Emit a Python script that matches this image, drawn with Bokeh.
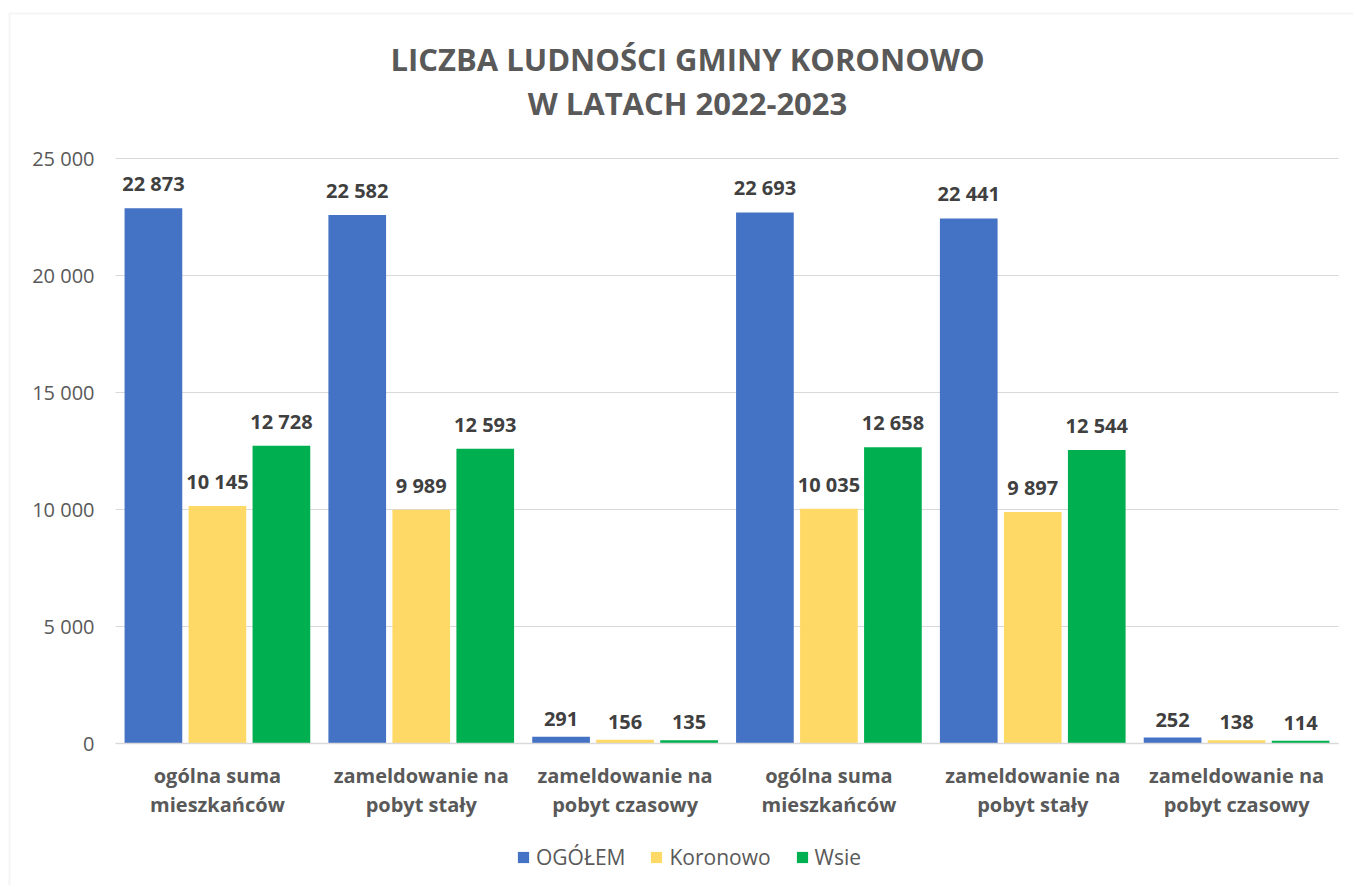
from bokeh.plotting import figure
from bokeh.models import (ColumnDataSource, Range1d, FixedTicker, Legend, LegendItem, Label, BoxAnnotation)
from bokeh.transform import dodge
from bokeh.embed import file_html
from bokeh.resources import INLINE

# ---- data ----
categories = ["ogólna suma\nmieszkańców", "zameldowanie na\npobyt stały", "zameldowanie na\npobyt czasowy",
              "ogólna suma\nmieszkańców", "zameldowanie na\npobyt stały", "zameldowanie na\npobyt czasowy"]
series_names = ["OGÓŁEM", "Koronowo", "Wsie"]
ogolem = [22873, 22582, 291, 22693, 22441, 252]
koronowo = [10145, 9989, 156, 10035, 9897, 138]
wsie = [12728, 12593, 135, 12658, 12544, 114]
y_ticks = [0, 5000, 10000, 15000, 20000, 25000]
title_lines = ["LICZBA LUDNOŚCI GMINY KORONOWO", "W LATACH 2022-2023"]
colors = ["#4472C4", "#FFD966", "#00B050"]

def fmt(v):
    return f"{v:,}".replace(",", " ")

FONT = "Open Sans"

# ---- layout constants (pixels) ----
W, H = 1353, 885
CAT_L, CAT_R = 115, 1338       # plot area, horizontally
Y0_PX, PX_PER_25K = 743, 585.0  # baseline and height of 0..25000
N = len(categories)

def px_to_x(px):
    return (px - CAT_L) / (CAT_R - CAT_L) * N

def px_to_y(py):
    return (Y0_PX - py) / PX_PER_25K * y_ticks[-1]

x_pos = [i + 0.5 for i in range(N)]
src = ColumnDataSource(dict(
    x=x_pos,
    ogolem=ogolem, koronowo=koronowo, wsie=wsie,
    ogolem_t=[fmt(v) for v in ogolem],
    koronowo_t=[fmt(v) for v in koronowo],
    wsie_t=[fmt(v) for v in wsie],
))

p = figure(width=W, height=H, output_backend="svg", toolbar_location=None,
           x_range=Range1d(px_to_x(0), px_to_x(W)), y_range=Range1d(px_to_y(H), px_to_y(0)),
           min_border=0)
p.outline_line_color = None
p.background_fill_color = "white"
p.border_fill_color = "white"

# chart-area border
p.add_layout(BoxAnnotation(left=px_to_x(9), top=px_to_y(13), right=px_to_x(W + 40),
                           bottom=px_to_y(H + 40), fill_alpha=0, line_color="#d9d9d9",
                           line_width=2))

# gridlines limited to the plot area
p.xgrid.grid_line_color = None
p.ygrid.grid_line_color = None
p.segment(x0=[0] * len(y_ticks), x1=[N] * len(y_ticks), y0=y_ticks, y1=y_ticks,
          line_color="#d9d9d9", line_width=1)

# title (two centred lines)
for line, py in zip(title_lines, [58, 102]):
    p.add_layout(Label(x=px_to_x(687), y=px_to_y(py), text=line, text_align="center",
                       text_baseline="middle", text_font=FONT, text_font_size="31px",
                       text_font_style="bold", text_color="#595959"))

offsets = [-0.314, 0.0, 0.314]
keys = ["ogolem", "koronowo", "wsie"]
renderers = []
for k, off, c in zip(keys, offsets, colors):
    r = p.vbar(x=dodge("x", off, range=p.x_range), top=k, width=0.283, source=src,
               fill_color=c, line_color=None)
    renderers.append(r)
    p.text(x=dodge("x", off, range=p.x_range), y=k, text=k + "_t", source=src,
           text_align="center", text_baseline="bottom", y_offset=-11,
           text_font={"value": FONT}, text_font_size="20px", text_font_style="bold",
           text_color="#404040")

# axes (drawn at fixed positions inside the canvas)
p.xaxis.fixed_location = 0
p.xaxis.bounds = (0, N)
p.xaxis.ticker = FixedTicker(ticks=x_pos)
p.xaxis.major_label_overrides = {x: c for x, c in zip(x_pos, categories)}
p.xaxis.major_label_text_font = FONT
p.xaxis.major_label_text_font_size = "20px"
p.xaxis.major_label_text_font_style = "bold"
p.xaxis.major_label_text_color = "#595959"
p.xaxis.major_label_text_line_height = 1.1
p.xaxis.major_label_standoff = 12
p.xaxis.axis_line_color = "#d9d9d9"
p.xaxis.axis_line_width = 1.5
p.xaxis.major_tick_line_color = None
p.xaxis.minor_tick_line_color = None

p.yaxis.fixed_location = 0
p.yaxis.bounds = (0, y_ticks[-1])
p.yaxis.ticker = FixedTicker(ticks=y_ticks)
p.yaxis.major_label_overrides = {v: fmt(v) for v in y_ticks}
p.yaxis.major_label_text_font = FONT
p.yaxis.major_label_text_font_size = "20px"
p.yaxis.major_label_text_color = "#595959"
p.yaxis.major_label_standoff = 15
p.yaxis.axis_line_color = None
p.yaxis.major_tick_line_color = None
p.yaxis.minor_tick_line_color = None

legend = Legend(items=[LegendItem(label=n, renderers=[r]) for n, r in zip(series_names, renderers)],
                orientation="horizontal", location=(516, 14),
                label_text_font=FONT, label_text_font_size="21px", label_text_color="#595959",
                glyph_width=14, glyph_height=14, label_standoff=6, spacing=24,
                margin=0, padding=8, border_line_color=None, background_fill_alpha=0)
p.add_layout(legend, "center")

open("out.html", "w").write(file_html(p, INLINE))
